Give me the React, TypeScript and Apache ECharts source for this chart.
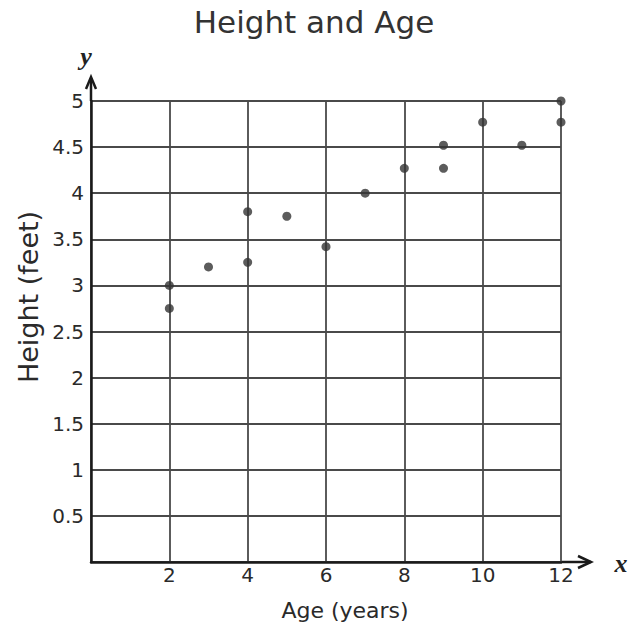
import React, { useEffect, useRef } from "react";
import * as echarts from "echarts";

const titleText = "Height and Age";
const xName = "Age (years)";
const yName = "Height (feet)";
const ages = [2, 2, 3, 4, 4, 5, 6, 7, 8, 9, 9, 10, 11, 12, 12];
const heights = [3.0, 2.75, 3.2, 3.25, 3.8, 3.75, 3.42, 4.0, 4.27, 4.52, 4.27, 4.77, 4.52, 5.0, 4.77];
const xTicks = { min: 0, max: 12, interval: 2 };
const yTicks = { min: 0, max: 5, interval: 0.5 };

const GRID = { left: 91, right: 70, top: 101, bottom: 67 };
const W = 631;
const H = 629;

export default function App() {
  const ref = useRef<HTMLDivElement>(null);
  useEffect(() => {
    if (!ref.current) return;
    const chart = echarts.init(ref.current, undefined, { renderer: "svg" });
    const x0 = GRID.left;
    const x1 = W - GRID.right;
    const y0 = H - GRID.bottom;
    const y1 = GRID.top;
    const axisColor = "#1a1a1a";
    const tickFont = { fontFamily: "DejaVu Sans", fontSize: 20, color: "#2a2a2a" };
    chart.setOption({
      animation: false,
      backgroundColor: "#ffffff",
      title: {
        text: titleText,
        left: 309,
        top: 1,
        textAlign: "center",
        textStyle: { fontFamily: "DejaVu Sans", fontSize: 31, fontWeight: "normal", color: "#333" },
      },
      grid: { left: GRID.left, right: GRID.right, top: GRID.top, bottom: GRID.bottom, containLabel: false },
      xAxis: {
        type: "value",
        min: xTicks.min,
        max: xTicks.max,
        interval: xTicks.interval,
        axisLine: { show: true, onZero: false, lineStyle: { color: axisColor, width: 2.5 } },
        axisTick: { show: false },
        axisLabel: {
          ...tickFont,
          margin: 3,
          formatter: (v: number) => (v === 0 ? "" : String(v)),
        },
        splitLine: { show: true, lineStyle: { color: "#4a4a4a", width: 1.8 } },
      },
      yAxis: {
        type: "value",
        min: yTicks.min,
        max: yTicks.max,
        interval: yTicks.interval,
        axisLine: { show: true, onZero: false, lineStyle: { color: axisColor, width: 2.5 } },
        axisTick: { show: false },
        axisLabel: {
          ...tickFont,
          margin: 7,
          formatter: (v: number) => (v === 0 ? "" : String(v)),
        },
        splitLine: { show: true, lineStyle: { color: "#4a4a4a", width: 1.8 } },
      },
      series: [
        {
          type: "scatter",
          data: ages.map((a, i) => [a, heights[i]]),
          symbolSize: 9,
          itemStyle: { color: "#333" },
          z: 5,
        },
      ],
      graphic: [
        {
          type: "line",
          shape: { x1: x0, y1: y1, x2: x0, y2: 78 },
          style: { stroke: axisColor, lineWidth: 2.5 },
        },
        {
          type: "polyline",
          shape: { points: [[x0 - 5, 89], [x0, 77], [x0 + 5, 89]] },
          style: { stroke: axisColor, lineWidth: 2.5, fill: null },
        },
        {
          type: "line",
          shape: { x1: x1, y1: y0, x2: 591, y2: y0 },
          style: { stroke: axisColor, lineWidth: 2.5 },
        },
        {
          type: "polyline",
          shape: { points: [[578, y0 - 6], [591, y0], [578, y0 + 6]] },
          style: { stroke: axisColor, lineWidth: 2.5, fill: null },
        },
        {
          type: "text",
          x: 86,
          y: 56,
          style: {
            text: "y",
            font: "italic bold 26px 'Liberation Serif'",
            fill: "#222",
            textAlign: "center",
            textVerticalAlign: "middle",
          },
        },
        {
          type: "text",
          x: 621,
          y: 563,
          style: {
            text: "x",
            font: "italic bold 26px 'Liberation Serif'",
            fill: "#222",
            textAlign: "center",
            textVerticalAlign: "middle",
          },
        },
        {
          type: "text",
          x: 345,
          y: 610,
          style: {
            text: xName,
            font: "22px 'DejaVu Sans'",
            fill: "#2a2a2a",
            textAlign: "center",
            textVerticalAlign: "middle",
          },
        },
        {
          type: "text",
          x: 28,
          y: 297,
          rotation: Math.PI / 2,
          style: {
            text: yName,
            font: "27px 'DejaVu Sans'",
            fill: "#2a2a2a",
            textAlign: "center",
            textVerticalAlign: "middle",
          },
        },
      ],
    });
    return () => chart.dispose();
  }, []);
  return <div ref={ref} style={{ width: W, height: H, position: "absolute", left: 0, top: 0 }} />;
}
